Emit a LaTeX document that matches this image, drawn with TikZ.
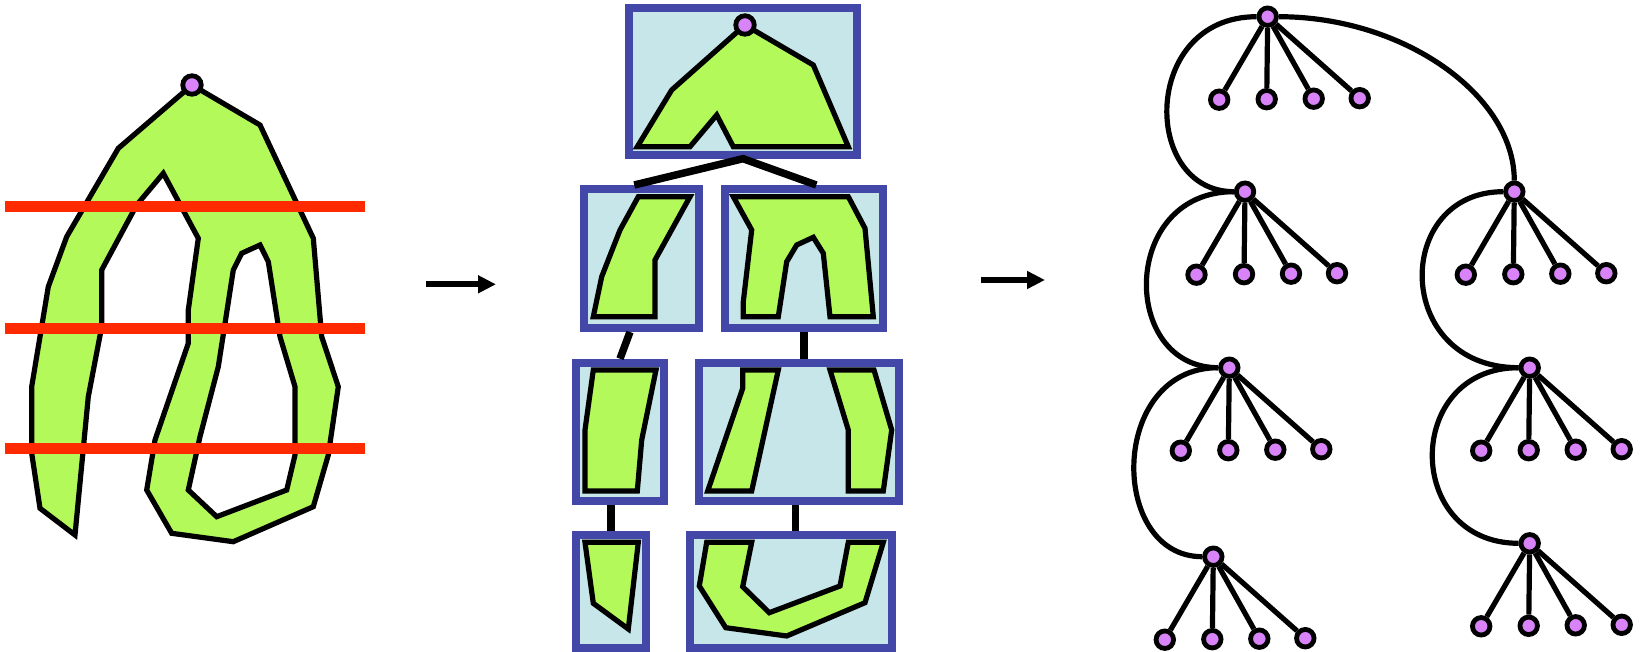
\documentclass[tikz,border=0pt]{standalone}
\usetikzlibrary{arrows.meta,calc}
\definecolor{lime}{HTML}{B4F95A}
\definecolor{boxfill}{HTML}{C6E6E9}
\definecolor{boxline}{HTML}{4347A8}
\definecolor{vio}{HTML}{D883F7}
\definecolor{redline}{HTML}{FF2A00}
\begin{document}
\begin{tikzpicture}[x=1pt,y=-1pt,
  piece/.style={fill=lime,draw=black,line width=5.2pt},
  cut/.style={draw=redline,line width=10.5pt},
  pbox/.style={draw=boxline,fill=boxfill,line width=8pt,rectangle,inner sep=0pt},
  link/.style={draw=black,line width=7.5pt},
  vtx/.style={circle,fill=vio,draw=black,line width=4.8pt,minimum size=17.5pt,inner sep=0pt},
  bigvtx/.style={vtx,minimum size=18.5pt},
  tedge/.style={draw=black,line width=5.2pt},
  flow/.style={draw=black,line width=6pt,-{Triangle[length=18pt,width=17pt]}}
]
\useasboundingbox (0,0) rectangle (1650,652);

% ---------- left: the shape with cut lines ----------
\path[piece,even odd rule]
  (192,85) -- (260,125) -- (313.3,238.3) -- (321.7,336.7) -- (338.3,386.7) -- (328.3,455) -- (313.3,506.7) -- (233.3,541.7) -- (171.7,533.3) -- (146.7,490) -- (155,440) -- (188.3,343.3) -- (188.3,310) -- (198.3,238.3) -- (163.3,173.3) -- (136.7,205) -- (101.7,270) -- (101.7,326.7) -- (88.3,396.7) -- (75,535) -- (40,508.3) -- (31.7,453.3) -- (31.7,386.7) -- (48.3,286.7) -- (66.7,236.7) -- (118.3,148.3) -- cycle
  (233.3,270) -- (241.7,253.3) -- (260,245) -- (268.3,261.7) -- (280,336.7) -- (295,386.7) -- (295,455) -- (286.7,490) -- (216.7,516.7) -- (188.3,490) -- (200,436.7) -- (218.3,366.7) -- cycle;
\coordinate (r1a) at (5,206.7);   \coordinate (r1b) at (365,206.7);
\coordinate (r2a) at (5,328.3);   \coordinate (r2b) at (365,328.3);
\coordinate (r3a) at (5,448.3);   \coordinate (r3b) at (365,448.3);
\draw[cut] (r1a) -- (r1b);
\draw[cut] (r2a) -- (r2b);
\draw[cut] (r3a) -- (r3b);
\node[bigvtx] (L0) at (192,85) {};

% ---------- arrows ----------
\coordinate (a1s) at (426,284.3); \coordinate (a1e) at (496,284.3);
\coordinate (a2s) at (981,280);   \coordinate (a2e) at (1045,280);
\draw[flow] (a1s) -- (a1e);
\draw[flow] (a2s) -- (a2e);

% ---------- middle: boxes ----------
\node[pbox,minimum width=228.6pt,minimum height=146.7pt] (B0) at (743,81.35) {};
\node[pbox,minimum width=114.7pt,minimum height=139pt] (B1L) at (641.65,258.5) {};
\node[pbox,minimum width=157.7pt,minimum height=139pt] (B1R) at (804.15,258.5) {};
\node[pbox,minimum width=88pt,minimum height=138pt] (B2L) at (620,431.7) {};
\node[pbox,minimum width=200.6pt,minimum height=138pt] (B2R) at (799,431.7) {};
\node[pbox,minimum width=70.3pt,minimum height=112.7pt] (B3L) at (611.15,591.65) {};
\node[pbox,minimum width=202pt,minimum height=112.7pt] (B3R) at (791.3,591.65) {};

% pieces
\path[piece] (745,25) -- (813.3,65) -- (848.3,146.7) -- (733.3,146.7) -- (716.7,115) -- (690,146.7) -- (637.3,146.7) -- (671.7,90) -- cycle;
\node[bigvtx] (M0) at (745,25) {};
\path[piece] (638.3,196.7) -- (690,196.7) -- (655,260) -- (655,316.7) -- (593.3,316.7) -- (601.7,276.7) -- (620,230) -- cycle;
\path[piece] (733.3,196.7) -- (848.3,196.7) -- (865,228.3) -- (873.3,316.7) -- (830,316.7) -- (823.3,253.3) -- (813.3,237.3) -- (796.7,245) -- (786.7,261.7) -- (778.3,316.7) -- (743.3,316.7) -- (743.3,301.7) -- (751.7,230) -- cycle;
\path[piece] (593.3,370) -- (656,370) -- (641.7,440) -- (637.3,491) -- (585,491) -- (585,430) -- cycle;
\path[piece] (742.7,370) -- (778.3,370) -- (751.7,491) -- (707.7,491) -- (742.7,388.3) -- cycle;
\path[piece] (830,370) -- (874,370) -- (891.7,430) -- (883.3,491) -- (848.3,491) -- (848.3,430) -- cycle;
\path[piece] (585,542.3) -- (638.3,542.3) -- (628.3,629) -- (593.3,603.3) -- cycle;
\path[piece] (706.7,542.3) -- (751.7,542.3) -- (742.7,586.7) -- (769.3,612.7) -- (840,586) -- (848.3,542.3) -- (883.3,542.3) -- (865,602.7) -- (786.7,636) -- (725.7,627.7) -- (699.3,586) -- cycle;

% links
\draw[link] ($(B1L.north west)+(54,0)$) -- (B0.south) -- ($(B1R.north east)+(-70.7,0)$);
\draw[link] ($(B1L.south)+(-11.7,0)$) -- (B2L.north);
\draw[link] (B1R.south) -- (B1R.south |- B2R.north);
\draw[link] (B3L.north |- B2L.south) -- (B3L.north);
\draw[link] ($(B2R.south)+(-3.7,0)$) -- ($(B3R.north)+(4,0)$);

% ---------- right: tree ----------
\foreach \p/\x/\y in {N0/1267.7/16.7, N1/1245/191.7, R1/1514.3/191.7, N2/1229.3/367.7, N3/1213.3/556.7, R2/1529.7/367.7, R3/1529.7/543.3} {
  \node[vtx] (\p) at (\x,\y) {};
  \foreach \i/\dx/\dy in {1/-48.5/83, 2/-1/82.5, 3/46/82, 4/92/81.5} {
    \node[vtx] (\p-\i) at (\x+\dx,\y+\dy) {};
    \draw[tedge] (\p) -- (\p-\i);
  }
}
\draw[tedge] (N0) .. controls (1141,16.7) and (1141,191.7) .. (N1);
\draw[tedge] (N0) .. controls (1404,16.7) and (1514.3,95.4) .. (R1);
\draw[tedge] (N1) .. controls (1120,191.7) and (1120,367.7) .. (N2);
\draw[tedge] (N2) .. controls (1108.5,367.7) and (1108.5,556.7) .. (N3);
\draw[tedge] (R1) .. controls (1392.7,191.7) and (1392.7,367.7) .. (R2);
\draw[tedge] (R2) .. controls (1403.5,367.7) and (1403.5,543.3) .. (R3);
\end{tikzpicture}
\end{document}
